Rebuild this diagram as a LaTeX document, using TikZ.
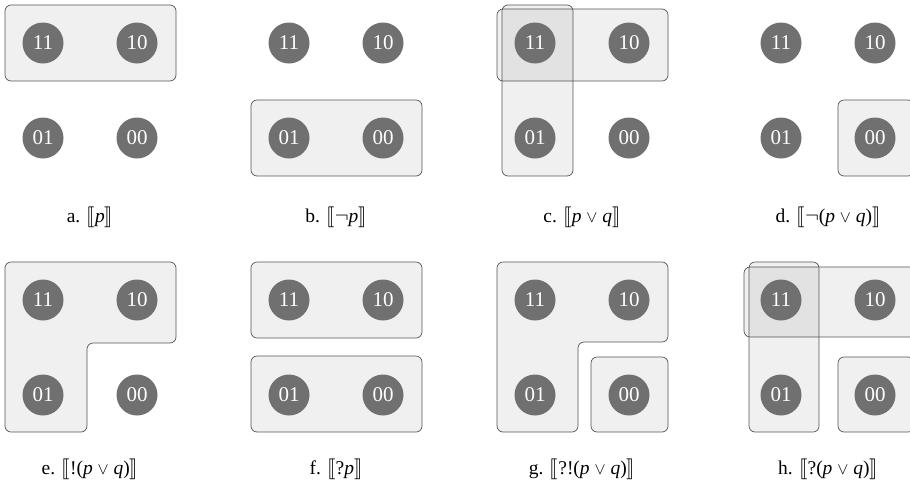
\documentclass[tikz,border=0pt]{standalone}
\usepackage{fontspec}
\usepackage{stmaryrd}
\setmainfont{Liberation Serif}
\definecolor{dotgray}{HTML}{707070}
\definecolor{edgegray}{HTML}{555555}
\newcommand\orsym{\scalebox{0.8}{$\vee$}}
\tikzset{
  world/.style={circle,fill=dotgray,minimum size=41pt,inner sep=0pt,text=white,font=\fontsize{21}{22}\selectfont},
  region/.style={draw=edgegray,line width=0.7pt,fill=black,fill opacity=0.06,rounded corners=6pt},
  caption/.style={font=\fontsize{19.5}{22}\selectfont,anchor=base}
}
\newcommand\mkworlds[3]{%
  \node[world] (#1-11) at (#2,#3) {11};
  \node[world] (#1-10) at (#2+94,#3) {10};
  \node[world] (#1-01) at (#2,#3+95) {01};
  \node[world] (#1-00) at (#2+94,#3+95) {00};
}
\begin{document}
\begin{tikzpicture}[x=1pt,y=-1pt]
\useasboundingbox (0,0) rectangle (910,488);
\clip (0,0) rectangle (910,488);
% ---- row 1 ----
% a
\draw[region] (5,5) rectangle (176,81);
\mkworlds{a}{43}{43}
\node[caption] (capa) at (90,222) {a. $\llbracket$\textit{p}$\rrbracket$};
% b
\draw[region] (251,100) rectangle (422,176);
\mkworlds{b}{289}{43}
\node[caption] (capb) at (336,222) {b. $\llbracket\neg$\textit{p}$\rrbracket$};
% c
\draw[region] (497,9) rectangle (668,81);
\draw[region] (502,5) rectangle (573,176);
\mkworlds{c}{535}{43}
\node[caption] (capc) at (582,222) {c. $\llbracket$\textit{p} \orsym\ \textit{q}$\rrbracket$};
% d
\draw[region] (838,100) rectangle (914,176);
\mkworlds{d}{781}{43}
\node[caption] (capd) at (828,222) {d. $\llbracket\neg$(\textit{p} \orsym\ \textit{q})$\rrbracket$};
% ---- row 2 ----
% e
\draw[region] (5,262) -- (176,262) -- (176,343) -- (87,343) -- (87,432) -- (5,432) -- cycle;
\mkworlds{e}{43}{300}
\node[caption] (cape) at (90,474) {e. $\llbracket$!(\textit{p} \orsym\ \textit{q})$\rrbracket$};
% f
\draw[region] (251,262) rectangle (422,338);
\draw[region] (251,356) rectangle (422,432);
\mkworlds{f}{289}{300}
\node[caption] (capf) at (336,474) {f. $\llbracket$?\textit{p}$\rrbracket$};
% g
\draw[region] (497,262) -- (668,262) -- (668,342) -- (578,342) -- (578,432) -- (497,432) -- cycle;
\draw[region] (591,357) rectangle (668,432);
\mkworlds{g}{535}{300}
\node[caption] (capg) at (582,474) {g. $\llbracket$?!(\textit{p} \orsym\ \textit{q})$\rrbracket$};
% h
\draw[region] (744,267) rectangle (920,337);
\draw[region] (749,262) rectangle (819,432);
\draw[region] (838,357) rectangle (914,432);
\mkworlds{h}{781}{300}
\node[caption] (caph) at (828,474) {h. $\llbracket$?(\textit{p} \orsym\ \textit{q})$\rrbracket$};
\end{tikzpicture}
\end{document}
